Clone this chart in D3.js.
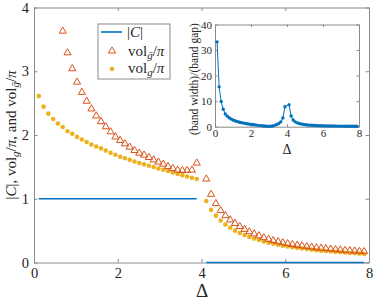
<!DOCTYPE html>
<html>
<head>
<meta charset="utf-8">
<script src="https://cdn.jsdelivr.net/npm/d3@7"></script>
<style>
  body { margin: 0; background: #fff; }
</style>
</head>
<body>
<div id="chart"></div>
<script>
// Delta grid (4.0 is a gap, as in the original NaN)
const delta = [0.114, 0.229, 0.343, 0.457, 0.571, 0.686, 0.800, 0.914, 1.029, 1.143,
  1.257, 1.371, 1.486, 1.600, 1.714, 1.829, 1.943, 2.057, 2.171, 2.286,
  2.400, 2.514, 2.629, 2.743, 2.857, 2.971, 3.086, 3.200, 3.314, 3.429,
  3.543, 3.657, 3.771, 3.886, 4.000, 4.114, 4.229, 4.343, 4.457, 4.571,
  4.686, 4.800, 4.914, 5.029, 5.143, 5.257, 5.371, 5.486, 5.600, 5.714,
  5.829, 5.943, 6.057, 6.171, 6.286, 6.400, 6.514, 6.629, 6.743, 6.857,
  6.971, 7.086, 7.200, 7.314, 7.429, 7.543, 7.657, 7.771, 7.886];

const cardC = [1, 1, 1, 1, 1, 1, 1, 1, 1, 1, 1, 1, 1, 1, 1, 1, 1, 1, 1, 1,
  1, 1, 1, 1, 1, 1, 1, 1, 1, 1, 1, 1, 1, 1, null,
  0, 0, 0, 0, 0, 0, 0, 0, 0, 0, 0, 0, 0, 0, 0, 0, 0,
  0, 0, 0, 0, 0, 0, 0, 0, 0, 0, 0, 0, 0, 0, 0, 0, 0];

const volGbar = [null, null, null, null, null, 3.63, 3.29, 3.04, 2.83, 2.67,
  2.53, 2.41, 2.30, 2.21, 2.13, 2.05, 1.97, 1.915, 1.863, 1.81,
  1.758, 1.717, 1.685, 1.648, 1.61, 1.575, 1.543, 1.506, 1.475, 1.45,
  1.443, 1.443, 1.45, 1.56, null,
  1.31, 1.07, 0.925, 0.815, 0.735, 0.668, 0.613, 0.565, 0.52, 0.483,
  0.45, 0.42, 0.39, 0.365, 0.345, 0.327, 0.31, 0.296, 0.283, 0.271,
  0.26, 0.25, 0.241, 0.232, 0.224, 0.217, 0.21, 0.203, 0.197, 0.19,
  0.185, 0.18, 0.175, 0.17];

const volG = [2.61, 2.445, 2.335, 2.25, 2.18, 2.125, 2.06, 2.02, 1.97, 1.93,
  1.89, 1.85, 1.82, 1.79, 1.755, 1.72, 1.69, 1.66, 1.635, 1.61,
  1.585, 1.56, 1.54, 1.518, 1.497, 1.475, 1.455, 1.435, 1.41, 1.39,
  1.37, 1.35, 1.33, 1.31, null,
  0.965, 0.825, 0.735, 0.66, 0.595, 0.545, 0.50, 0.462, 0.43, 0.40,
  0.375, 0.352, 0.33, 0.31, 0.293, 0.278, 0.264, 0.252, 0.24, 0.229,
  0.219, 0.21, 0.201, 0.193, 0.186, 0.179, 0.172, 0.166, 0.16, 0.154,
  0.149, 0.144, 0.139, 0.134];

// inset: (band width)/(band gap)
const widthOverGap = [33.2, 15.6, 9.85, 6.85, 5.0, 4.1, 3.45, 2.95, 2.55, 2.25,
  1.98, 1.76, 1.57, 1.4, 1.25, 1.1, 0.97, 0.85, 0.74, 0.63,
  0.53, 0.44, 0.35, 0.27, 0.19, 0.13, 0.16, 0.3, 0.52, 0.85,
  1.25, 1.9, 3.4, 7.8, null,
  8.6, 4.2, 2.6, 1.9, 1.5, 1.25, 1.05, 0.9, 0.78, 0.68,
  0.6, 0.54, 0.49, 0.45, 0.41, 0.38, 0.35, 0.33, 0.31, 0.29,
  0.27, 0.26, 0.25, 0.24, 0.23, 0.22, 0.21, 0.2, 0.19, 0.18,
  0.18, 0.17, 0.17, 0.16];

const mainXTicks = [0, 2, 4, 6, 8];
const mainYTicks = [0, 1, 2, 3, 4];
const insetXTicks = [0, 2, 4, 6, 8];
const insetYTicks = [0, 10, 20, 30, 40];

const blue = "#0072BD", orange = "#D95319", gold = "#EDB120", axisGray = "#8a8a8a";
const serif = "'Liberation Serif', 'Times New Roman', serif";

const svg = d3.select("#chart").append("svg")
    .attr("width", 374).attr("height", 302);

function frame(g, x, y, xt, yt, tick, fs, pad) {
    const [x0, x1] = x.range(), [y0, y1] = y.range();
    const fmt = d3.format("d");
    const ax = [
        [d3.axisBottom(x).tickValues(xt).tickFormat(fmt).tickSize(-tick).tickPadding(pad), `translate(0,${y0})`],
        [d3.axisTop(x).tickValues(xt).tickSize(-tick).tickFormat(""), `translate(0,${y1})`],
        [d3.axisLeft(y).tickValues(yt).tickFormat(fmt).tickSize(-tick).tickPadding(pad), `translate(${x0},0)`],
        [d3.axisRight(y).tickValues(yt).tickSize(-tick).tickFormat(""), `translate(${x1},0)`]
    ];
    ax.forEach(([a, t]) => {
        const s = g.append("g").attr("transform", t).call(a.tickSizeOuter(0));
        s.select(".domain").attr("stroke", axisGray).attr("stroke-width", 1);
        s.selectAll(".tick line").attr("stroke", axisGray);
        s.selectAll(".tick text").attr("fill", "#262626")
            .style("font-family", serif).style("font-size", fs + "px");
    });
}

// ---------- main axes ----------
const x = d3.scaleLinear().domain([0, 8]).range([34, 369]);
const y = d3.scaleLinear().domain([0, 4]).range([262.5, 7.5]);
const main = svg.append("g");

frame(main, x, y, mainXTicks, mainYTicks, 3.5, 14.5, 5);

const pts = (vals) => delta.map((d, i) => ({d, v: vals[i]}));

main.append("path")
    .datum(pts(cardC))
    .attr("fill", "none").attr("stroke", blue).attr("stroke-width", 1.6)
    .attr("d", d3.line().defined(p => p.v != null).x(p => x(p.d)).y(p => y(p.v)));

main.append("g").selectAll("circle")
    .data(pts(volG).filter(p => p.v != null))
    .join("circle")
    .attr("cx", p => x(p.d)).attr("cy", p => y(p.v)).attr("r", 2.3)
    .attr("fill", gold);

const tri = d3.symbol().type(d3.symbolTriangle).size(22);
main.append("g").selectAll("path")
    .data(pts(volGbar).filter(p => p.v != null))
    .join("path")
    .attr("transform", p => `translate(${x(p.d)},${y(p.v)})`)
    .attr("d", tri)
    .attr("fill", "none").attr("stroke", orange).attr("stroke-width", 1);

function txt(g, size) {
    return g.append("text").style("font-family", serif).style("font-size", size + "px")
        .attr("fill", "#262626");
}

txt(main, 19).attr("x", 202).attr("y", 297).attr("text-anchor", "middle").text("Δ");

// y label
const yl = txt(main, 15)
    .attr("transform", "translate(16,135) rotate(-90)")
    .attr("text-anchor", "middle");
yl.append("tspan").text("|");
yl.append("tspan").style("font-style", "italic").text("C");
yl.append("tspan").text("|, vol");
yl.append("tspan").style("font-style", "italic").style("font-size", "11px").attr("dy", 3).text("g");
yl.append("tspan").attr("dy", -3).text("/");
yl.append("tspan").style("font-style", "italic").text("π");
yl.append("tspan").text(", and vol");
yl.append("tspan").style("font-style", "italic").style("font-size", "11px").attr("dy", 3).text("ḡ");
yl.append("tspan").attr("dy", -3).text("/");
yl.append("tspan").style("font-style", "italic").text("π");

// legend
const lg = main.append("g");
lg.append("rect").attr("x", 98).attr("y", 24).attr("width", 72).attr("height", 55)
    .attr("fill", "#fff").attr("stroke", axisGray).attr("stroke-width", 1);
lg.append("line").attr("x1", 101).attr("x2", 122).attr("y1", 32).attr("y2", 32)
    .attr("stroke", blue).attr("stroke-width", 1.6);
lg.append("path").attr("transform", "translate(112,51)").attr("d", tri)
    .attr("fill", "none").attr("stroke", orange);
lg.append("circle").attr("cx", 112).attr("cy", 69).attr("r", 2.3).attr("fill", gold);

const l1 = txt(lg, 15).attr("x", 127).attr("y", 37);
l1.append("tspan").text("|");
l1.append("tspan").style("font-style", "italic").text("C");
l1.append("tspan").text("|");

function volLabel(yy, sub) {
    const t = txt(lg, 15).attr("x", 128).attr("y", yy);
    t.append("tspan").text("vol");
    t.append("tspan").style("font-style", "italic").style("font-size", "11px").attr("dy", 3).text(sub);
    t.append("tspan").attr("dy", -3).text("/");
    t.append("tspan").style("font-style", "italic").text("π");
}
volLabel(55.5, "ḡ");
volLabel(72.5, "g");

// ---------- inset ----------
const xi = d3.scaleLinear().domain([0, 8]).range([215, 359]);
const yi = d3.scaleLinear().domain([0, 40]).range([126.7, 24.5]);
const inset = svg.append("g");
inset.append("rect").attr("x", 215).attr("y", 24.5).attr("width", 144).attr("height", 102.2)
    .attr("fill", "#fff");
frame(inset, xi, yi, insetXTicks, insetYTicks, 2.5, 11, 3);

const ipts = pts(widthOverGap).filter(p => p.v != null);
inset.append("path").datum(ipts)
    .attr("fill", "none").attr("stroke", blue).attr("stroke-width", 1)
    .attr("d", d3.line().x(p => xi(p.d)).y(p => yi(p.v)));
inset.append("g").selectAll("circle").data(ipts).join("circle")
    .attr("cx", p => xi(p.d)).attr("cy", p => yi(p.v)).attr("r", 1.7).attr("fill", blue);

txt(inset, 14).attr("x", 287).attr("y", 154).attr("text-anchor", "middle").text("Δ");
txt(inset, 11.5).attr("transform", "translate(198,79) rotate(-90)")
    .attr("text-anchor", "middle").text("(band width)/(band gap)");
</script>
</body>
</html>
